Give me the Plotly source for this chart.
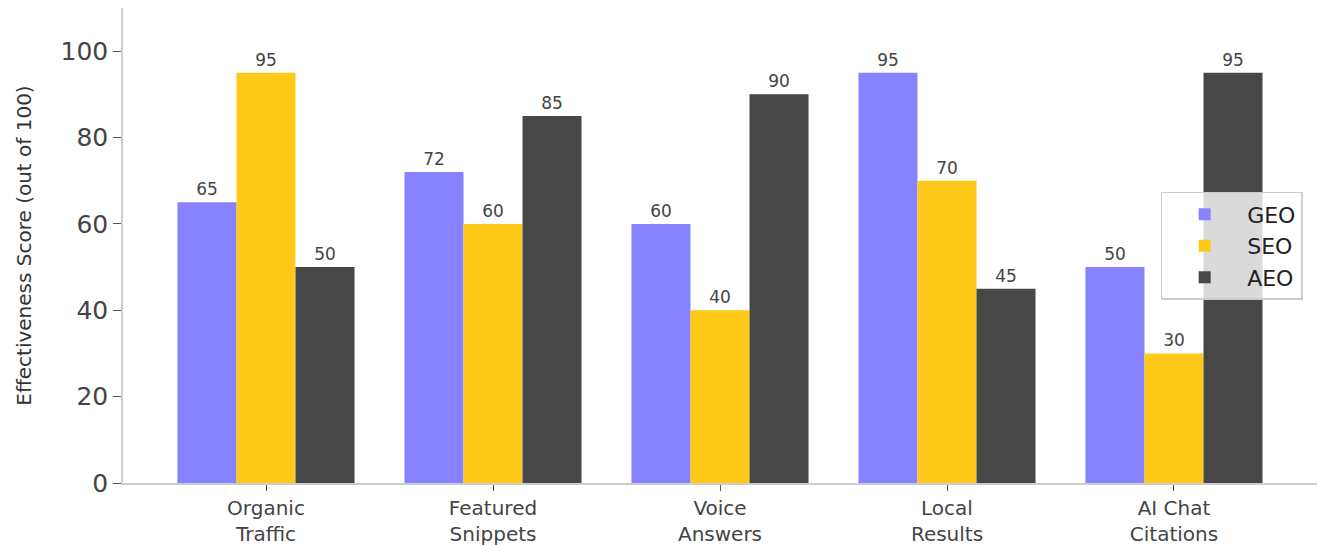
import plotly.graph_objects as go

categories = ["Organic<br>Traffic", "Featured<br>Snippets", "Voice<br>Answers", "Local<br>Results", "AI Chat<br>Citations"]
geo = [65, 72, 60, 95, 50]
seo = [95, 60, 40, 70, 30]
aeo = [50, 85, 90, 45, 95]
series = [("GEO", geo, "#8782FF"), ("SEO", seo, "#FFC917"), ("AEO", aeo, "#474747")]

fig = go.Figure()
for name, vals, color in series:
    fig.add_trace(go.Bar(
        x=list(range(len(categories))), y=vals, name=name,
        marker=dict(color=color, line=dict(width=0)),
        text=[str(v) for v in vals], textposition="outside",
        textfont=dict(size=17, color="#444444", family="DejaVu Sans"),
        cliponaxis=False,
    ))

fig.update_layout(
    width=1317, height=545,
    margin=dict(l=123, r=0, t=8, b=62, autoexpand=False),
    barmode="group", bargap=0.22, bargroupgap=0,
    plot_bgcolor="white", paper_bgcolor="white",
    font=dict(family="DejaVu Sans", color="#444444"),
    showlegend=True,
    legend=dict(
        x=0.988, y=0.613, xanchor="right", yanchor="top",
        bgcolor="rgba(255,255,255,0.8)", bordercolor="#cccccc", borderwidth=1.5,
        font=dict(size=22, color="#222222"), itemwidth=75,
    ),
)
fig.update_xaxes(
    range=[-0.63, 4.63], tickvals=list(range(len(categories))), ticktext=categories,
    showline=True, linecolor="#cccccc", linewidth=1.5,
    ticks="outside", ticklen=6, tickcolor="#555555",
    tickfont=dict(size=20, color="#444444"), showgrid=False, zeroline=False,
)
fig.update_yaxes(
    range=[0, 110], tickvals=[0, 20, 40, 60, 80, 100],
    showline=True, linecolor="#cccccc", linewidth=1.5,
    ticks="outside", ticklen=8, tickcolor="#555555",
    tickfont=dict(size=25, color="#444444"), showgrid=False, zeroline=False,
    title=dict(text="Effectiveness Score (out of 100)", font=dict(size=20, color="#333333"), standoff=24),
)
fig.write_html("out.html", config={"displayModeBar": False},
               post_script="document.body.style.margin='0';document.body.style.overflow='hidden';")
